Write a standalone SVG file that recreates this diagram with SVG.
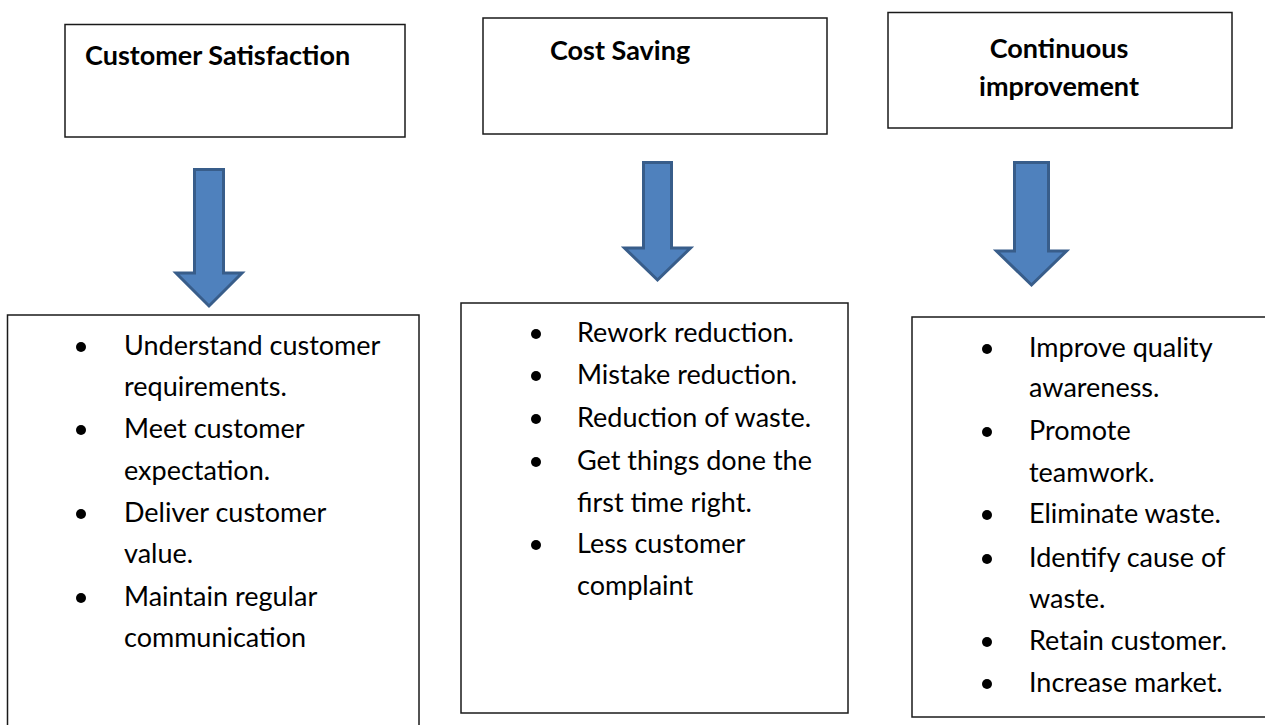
<svg xmlns="http://www.w3.org/2000/svg" width="1265" height="725" viewBox="0 0 1265 725">
<style>
.box{fill:#fff;stroke:#1a1a1a;stroke-width:1.5}
.title{font-family:Lato,"Liberation Sans",sans-serif;font-weight:bold;font-size:27px;fill:#000}
.item{font-family:Lato,"Liberation Sans",sans-serif;font-size:27px;fill:#000}
.bul{fill:#000}
.arrow{fill:#4F81BD;stroke:#385D8A;stroke-width:3;stroke-linejoin:miter}
</style>
<rect width="1265" height="725" fill="#fff"/>
<g id="node-customer-satisfaction">
<rect class="box" x="65" y="24.5" width="340" height="112.5"/>
<text class="title" x="85" y="65">Customer Satisfaction</text>
</g>
<g id="node-cost-saving">
<rect class="box" x="483" y="18" width="344" height="116"/>
<text class="title" x="550" y="60">Cost Saving</text>
</g>
<g id="node-continuous-improvement">
<rect class="box" x="888" y="12.5" width="344" height="115.5"/>
<text class="title" x="1059" y="58" text-anchor="middle">Continuous</text>
<text class="title" x="1059" y="96" text-anchor="middle">improvement</text>
</g>
<g id="connectors">
<path class="arrow" d="M194.5,169.5 H223.5 V273 H242 L209,306 L176,273 H194.5 Z"/>
<path class="arrow" d="M643.5,162.5 H671.5 V248 H690.5 L657.5,280 L624.5,248 H643.5 Z"/>
<path class="arrow" d="M1014.5,162.5 H1048.5 V251 H1066.5 L1031.5,285 L996.5,251 H1014.5 Z"/>
</g>
<g id="node-customer-list">
<rect class="box" x="7.5" y="315" width="411.5" height="420"/>
<circle class="bul" cx="81" cy="347" r="5"/>
<circle class="bul" cx="81" cy="430" r="5"/>
<circle class="bul" cx="81" cy="514" r="5"/>
<circle class="bul" cx="81" cy="598" r="5"/>
<text class="item" x="124" y="355">Understand customer</text>
<text class="item" x="124" y="396">requirements.</text>
<text class="item" x="124" y="438">Meet customer</text>
<text class="item" x="124" y="480">expectation.</text>
<text class="item" x="124" y="522">Deliver customer</text>
<text class="item" x="124" y="563">value.</text>
<text class="item" x="124" y="606">Maintain regular</text>
<text class="item" x="124" y="647">communication</text>
</g>
<g id="node-cost-list">
<rect class="box" x="461" y="303" width="387" height="410"/>
<circle class="bul" cx="536" cy="334" r="5"/>
<circle class="bul" cx="536" cy="376" r="5"/>
<circle class="bul" cx="536" cy="419" r="5"/>
<circle class="bul" cx="536" cy="462" r="5"/>
<circle class="bul" cx="536" cy="545" r="5"/>
<text class="item" x="577" y="342">Rework reduction.</text>
<text class="item" x="577" y="384">Mistake reduction.</text>
<text class="item" x="577" y="427">Reduction of waste.</text>
<text class="item" x="577" y="470">Get things done the</text>
<text class="item" x="577" y="512">first time right.</text>
<text class="item" x="577" y="553">Less customer</text>
<text class="item" x="577" y="595">complaint</text>
</g>
<g id="node-improvement-list">
<rect class="box" x="912" y="317" width="360" height="400"/>
<circle class="bul" cx="987" cy="349" r="5"/>
<circle class="bul" cx="987" cy="432" r="5"/>
<circle class="bul" cx="987" cy="515" r="5"/>
<circle class="bul" cx="987" cy="559" r="5"/>
<circle class="bul" cx="987" cy="642" r="5"/>
<circle class="bul" cx="987" cy="684" r="5"/>
<text class="item" x="1029" y="357">Improve quality</text>
<text class="item" x="1029" y="397">awareness.</text>
<text class="item" x="1029" y="440">Promote</text>
<text class="item" x="1029" y="482">teamwork.</text>
<text class="item" x="1029" y="523">Eliminate waste.</text>
<text class="item" x="1029" y="567">Identify cause of</text>
<text class="item" x="1029" y="608">waste.</text>
<text class="item" x="1029" y="650">Retain customer.</text>
<text class="item" x="1029" y="692">Increase market.</text>
</g>
</svg>
